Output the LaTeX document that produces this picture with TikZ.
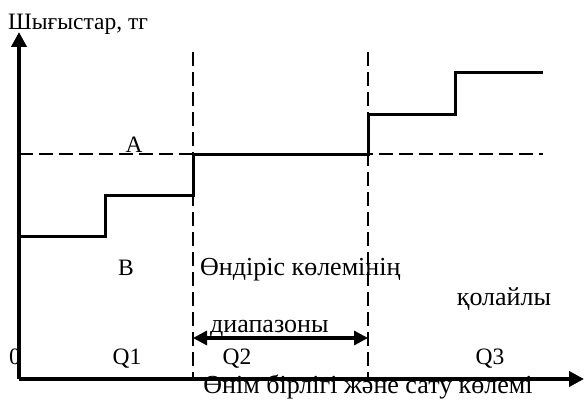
\documentclass[tikz,border=0pt]{standalone}
\usepackage{fontspec}
\setmainfont{Liberation Serif}
\usetikzlibrary{arrows.meta}
\begin{document}
\begin{tikzpicture}[x=1pt,y=-1pt,
  axis/.style={line width=4pt,-{Triangle[length=15pt,width=15pt]}},
  stepline/.style={line width=3pt},
  guide/.style={line width=2.6pt,dash pattern=on 14pt off 6pt},
  lbl/.style={font=\fontsize{26}{30}\selectfont,inner sep=0pt},
  lbls/.style={font=\fontsize{23.5}{27}\selectfont,inner sep=0pt},
  dbl/.style={line width=3.2pt,{Triangle[length=14pt,width=14pt]}-{Triangle[length=14pt,width=14pt]}}]
\useasboundingbox (0,0) rectangle (585,401);
\coordinate (O) at (19,379);
\coordinate (Ytip) at (19,32);
\coordinate (Xtip) at (584,379);
% guides
\coordinate (v1t) at (193,52);
\coordinate (v1b) at (193,379);
\coordinate (v2t) at (368,52);
\coordinate (v2b) at (368,379);
\coordinate (hl) at (19,154);
\coordinate (hr) at (543,154);
\draw[guide] (v1t) -- (v1b);
\draw[guide] (v2t) -- (v2b);
\draw[guide] (hl) -- (hr);
% step cost line
\coordinate (s0) at (19,236);
\coordinate (s1) at (105,236);
\coordinate (s2) at (105,195);
\coordinate (s3) at (193,195);
\coordinate (s4) at (193,154);
\coordinate (s5) at (368,154);
\coordinate (s6) at (368,114);
\coordinate (s7) at (455,114);
\coordinate (s8) at (455,73);
\coordinate (s9) at (543,73);
\draw[stepline] (s0) -- (s1) -- (s2) -- (s3) -- (s4) -- (s5) -- (s6) -- (s7) -- (s8) -- (s9);
% range arrow
\coordinate (r1) at (193,338);
\coordinate (r2) at (368,338);
\draw[dbl] (r1) -- (r2);
% axes
\draw[axis] (O) -- (Ytip);
\draw[axis] (O) -- (Xtip);
% labels
\node[lbls,anchor=base west] (ylab) at (8,30) {Шығыстар, тг};
\node[lbls,anchor=base] (A) at (134,152) {A};
\node[lbls,anchor=base] (B) at (126,275) {B};
\node[lbl,anchor=base west] (t1) at (200,275) {Өндіріс көлемінің};
\node[lbl,anchor=base] (t2) at (504,305) {қолайлы};
\node[lbl,anchor=base west] (t3) at (210,332) {диапазоны};
\node[lbls,anchor=base] (zero) at (15,364) {0};
\node[lbls,anchor=base] (Q1) at (127,364) {Q1};
\node[lbls,anchor=base] (Q2) at (237,364) {Q2};
\node[lbls,anchor=base] (Q3) at (490,364) {Q3};
\node[lbl,anchor=base] (xlab) at (368,393) {Өнім бірлігі және сату көлемі};
\end{tikzpicture}
\end{document}
